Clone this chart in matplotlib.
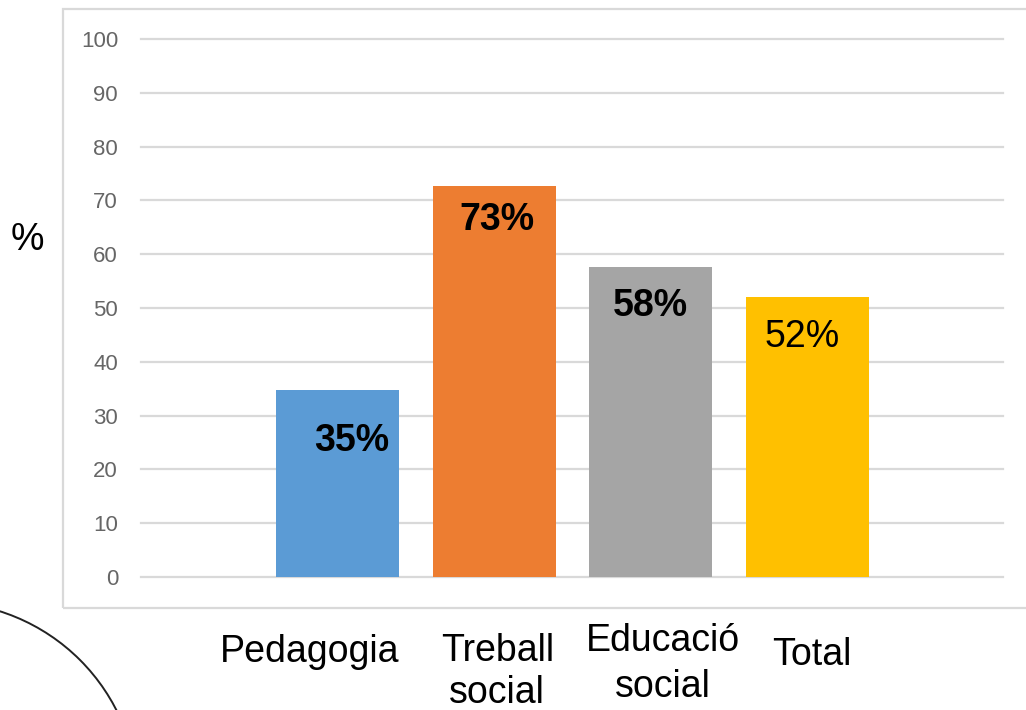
import matplotlib.pyplot as plt
from matplotlib.patches import Rectangle, Ellipse

plt.rcParams['font.family'] = ['Liberation Sans', 'DejaVu Sans']

categories = ['Pedagogia', 'Treball\nsocial', 'Educació\nsocial', 'Total']
values = [34.8, 72.7, 57.6, 52.0]
value_labels = ['35%', '73%', '58%', '52%']
colors = ['#5B9BD5', '#ED7D31', '#A5A5A5', '#FFC000']
label_bold = [True, True, True, False]
# offsets of the value labels below bar top (data units) and sideways shift
label_drop = [9.5, 6.3, 7.2, 7.4]
label_shift = [0.09, 0.02, 0.0, -0.03]
# category label placement (x shift in data units, y in figure pixels from top)
cat_shift = [-0.18, 0.02, 0.08, 0.03]
cat_top = [652, 672, 664, 655]
cat_spacing = [1.2, 1.2, 1.35, 1.2]

W, H = 1026, 710
fig = plt.figure(figsize=(W / 100, H / 100), dpi=100)
ax = fig.add_axes([141 / W, (H - 577) / H, (1003 - 141) / W, (577 - 39) / H])

x = list(range(len(categories)))
ax.bar(x, values, width=0.786, color=colors, zorder=3)

ax.set_xlim(-1.256, 4.252)
ax.set_ylim(0, 100)
ax.set_yticks(range(0, 101, 10))
ax.yaxis.grid(True, color='#D9D9D9', linewidth=1.6, zorder=0)
for gl in ax.get_ygridlines():
    gl.set_clip_on(False)
ax.set_xticks([])
for s in ax.spines.values():
    s.set_visible(False)
ax.tick_params(axis='y', length=0, pad=16.5, labelsize=16, labelcolor='#666666')

for i, v in enumerate(values):
    ax.text(i + label_shift[i], v - label_drop[i], value_labels[i],
            ha='center', va='center', fontsize=27,
            fontweight='bold' if label_bold[i] else 'normal', color='black', zorder=4)

for i, c in enumerate(categories):
    xd = ax.transData.transform((i + cat_shift[i], 0))[0]
    fig.text(xd / W, (H - cat_top[i]) / H, c, ha='center', va='center',
             fontsize=27, linespacing=cat_spacing[i], color='black')

fig.text(27 / W, (H - 240) / H, '%', ha='center', va='center', fontsize=27)

# chart area border
fig.patches.append(Rectangle((63 / W, (H - 608) / H), 1.0, (608 - 9) / H,
                             transform=fig.transFigure, fill=False,
                             edgecolor='#D9D9D9', linewidth=1.6))
# decorative arc in the lower-left corner
fig.patches.append(Ellipse((-60 / W, (H - 800) / H), 2 * 198 / W, 2 * 198 / H,
                           transform=fig.transFigure, fill=False,
                           edgecolor='#222222', linewidth=1.4))

fig.savefig('out.png', dpi=100)
